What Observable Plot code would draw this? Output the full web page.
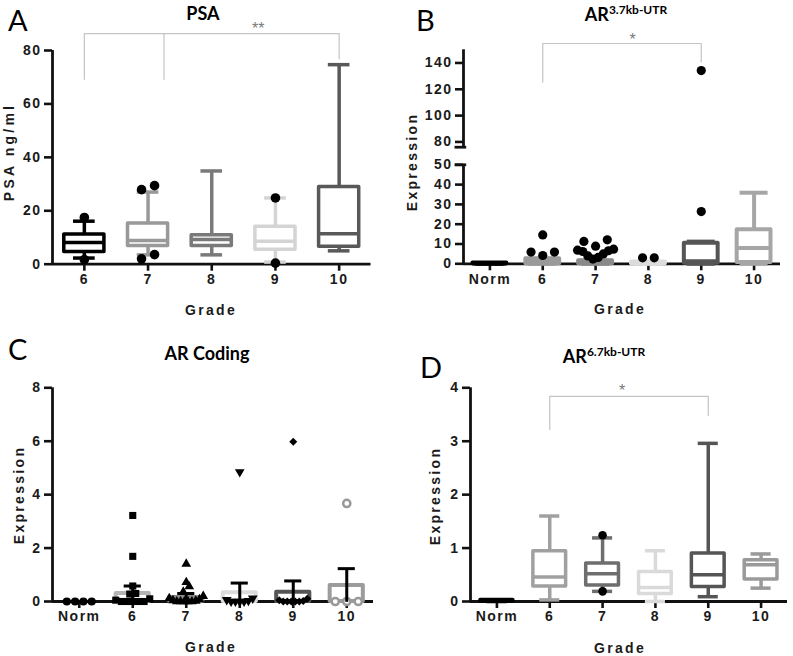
<!DOCTYPE html>
<html><head><meta charset="utf-8">
<script src="https://cdn.jsdelivr.net/npm/d3@7"></script>
<script src="https://cdn.jsdelivr.net/npm/@observablehq/plot@0.6"></script>
<style>
body{margin:0;background:#fff;}
#wrap{position:relative;width:793px;height:656px;overflow:hidden;background:#fff;}
#wrap svg{position:absolute;left:0;top:0;background:transparent !important;overflow:visible;}
.pl [aria-label^="x-axis"] text, .pl [aria-label^="y-axis"] text{
  font-family:"Liberation Sans Narrow","Liberation Sans",Arial,sans-serif;font-weight:bold;font-size:14px;letter-spacing:1.5px;fill:#1a1a1a;}
.pl [aria-label^="x-axis"] path, .pl [aria-label^="x-axis"] line,
.pl [aria-label^="y-axis"] path, .pl [aria-label^="y-axis"] line{stroke-width:2.6px;stroke:#111;}
.ov .letter{font-family:Lato,"Liberation Sans",sans-serif;font-size:29px;fill:#000;}
.ov .title{font-family:Lato,"Liberation Sans",sans-serif;font-weight:bold;font-size:18px;fill:#000;}
.ov .sup{font-size:12px;}
.ov .atitle{font-family:"Liberation Sans Narrow","Liberation Sans",Arial,sans-serif;font-weight:bold;font-size:14px;letter-spacing:2.3px;fill:#1a1a1a;}
.ov .wide{letter-spacing:3.2px;}
</style></head>
<body><div id="wrap"></div>
<script>
// ---------------- DATA ----------------
const gradesA = ["6", "7", "8", "9", "10"];
const gradesN = ["Norm", "6", "7", "8", "9", "10"];

// Panel A: PSA ng/ml (box & whiskers per grade)
const psaLow  = [2.3, 3.5, 3.5, 0.8, 5.0];
const psaQ1   = [4.6, 6.8, 6.8, 5.4, 6.5];
const psaMed  = [8.1, 8.9, 9.2, 8.6, 11.4];
const psaQ3   = [11.1, 15.2, 10.8, 14.0, 28.9];
const psaHigh = [16.1, 27.0, 34.9, 24.8, 74.7];
const psaOutGrade = ["6", "6", "7", "7", "7", "7", "9", "9"];
const psaOutValue = [17.5, 1.7, 29.4, 27.9, 2.0, 3.6, 24.8, 0.4];

// Panel B: AR 3.7kb-UTR expression
const bLow  = [0, 0, 0, 0, 0, 0];
const bQ1   = [0, 0, 0, 0, 0.3, 0.6];
const bMed  = [0.2, 1.0, 0.6, 0.3, 1.3, 8.0];
const bQ3   = [0.4, 2.5, 1.5, 0.9, 10.4, 17.2];
const bHigh = [0.4, 2.5, 1.5, 0.9, 11.2, 35.9];
const bOutGrade = ["6","6","6","6","7","7","7","7","7","7","7","7","7","7","7","8","8","9","9"];
const bOutValue = [14.6, 5.9, 4.2, 5.9, 12.1, 11.3, 8.9, 7.4, 6.9, 6.6, 6.2, 5.0, 4.0, 3.2, 2.4, 3.0, 3.0, 26.4, 134.2];

// Panel C: AR coding expression (individual values, mean bar, error bar)
const cNorm = [0, 0, 0, 0];
const c6  = [3.22, 1.69, 0.58, 0.3, 0.28, 0.1, 0.05, 0, 0, 0, 0, 0];
const c7  = [1.41, 0.72, 0.56, 0.36, 0.2, 0.12, 0.08, 0.04, 0.02, 0, 0, 0, 0, 0];
const c8  = [4.85, 0.12, 0.06, 0.03, 0, 0, 0, 0];
const c9  = [5.98, 0.1, 0.05, 0.02, 0, 0, 0, 0, 0];
const c10 = [3.67, 0, 0, 0];
const cMean = [0, 0.3, 0.15, 0.33, 0.35, 0.6];
const cErr  = [0, 0.28, 0.15, 0.36, 0.42, 0.63];

// Panel D: AR 6.7kb-UTR expression
const dLow  = [0, 0.03, 0.19, 0.0, 0.09, 0.25];
const dQ1   = [0, 0.28, 0.30, 0.14, 0.27, 0.41];
const dMed  = [0.01, 0.46, 0.52, 0.26, 0.5, 0.69];
const dQ3   = [0.03, 0.94, 0.71, 0.55, 0.9, 0.77];
const dHigh = [0.03, 1.6, 1.19, 0.95, 2.96, 0.89];
const dOutGrade = ["7", "7"];
const dOutValue = [1.24, 0.19];

// significance brackets (category positions, heights in data units)
const bracketA = {legs: [0, 1.25, 4], drops: [69.2, 69.2, 76.9], top: 86.3, label: "**", labelPos: 2.73, labelY: 88.0};
const bracketB = {legs: [1, 4], drops: [125.5, 140.8], top: 154.8, label: "*", labelPos: 2.7, labelY: 157.5};
const bracketD = {legs: [1, 4], drops: [3.22, 3.48], top: 3.84, label: "*", labelPos: 2.37, labelY: 3.95};

// ---------------- HELPERS ----------------
const W = 793, H = 656;
const wrapEl = document.getElementById("wrap");

// GraphPad-like scatter: bin points into rows, spread each row centre-out
function rowSwarm(ys, rowH, spacing, maxHalf) {
  const n = ys.length;
  const order = d3.range(n).sort((a, b) => ys[b] - ys[a]); // bottom first
  const xs = new Array(n).fill(0);
  let k = 0;
  while (k < n) {
    const start = ys[order[k]];
    const row = [];
    while (k < n && start - ys[order[k]] < rowH) row.push(order[k++]);
    const m = row.length;
    const s = m > 1 ? Math.min(spacing, (2 * maxHalf) / (m - 1)) : 0;
    const slots = d3.range(m).map(j => (j - (m - 1) / 2) * s)
      .sort((a, b) => Math.abs(a) - Math.abs(b) || a - b);
    row.forEach((idx, j) => xs[idx] = slots[j]);
  }
  return xs;
}

function swarm(ci, vals, yPx, cfg, stepPx) {
  const off = rowSwarm(vals.map(yPx), cfg.rowH, cfg.spacing, cfg.maxHalf);
  return vals.map((v, k) => ({x: ci + off[k] / stepPx, v}));
}

function bracketMarks(b) {
  const pts = [];
  const n = b.legs.length;
  pts.push({x: b.legs[0], y: b.drops[0], z: 0}, {x: b.legs[0], y: b.top, z: 0},
           {x: b.legs[n - 1], y: b.top, z: 0}, {x: b.legs[n - 1], y: b.drops[n - 1], z: 0});
  for (let i = 1; i < n - 1; i++) pts.push({x: b.legs[i], y: b.top, z: i}, {x: b.legs[i], y: b.drops[i], z: i});
  return [
    Plot.line(pts, {x: "x", y: "y", z: "z", stroke: "#c4c4c4", strokeWidth: 1.2}),
    Plot.text([b], {x: "labelPos", y: "labelY", text: "label", fill: "#7a7a7a", fontSize: 16, fontFamily: "Liberation Sans"})
  ];
}

function makePlot({cats, L, R, yDomain, yRange, yTicks, marks}) {
  const n = cats.length;
  const svg = Plot.plot({
    width: W, height: H,
    marginLeft: L, marginRight: W - R,
    marginTop: yRange[yRange.length - 1], marginBottom: H - yRange[0],
    style: {background: "transparent", overflow: "visible"},
    x: {type: "linear", domain: [-0.5, n - 0.5], range: [L, R], ticks: d3.range(n), tickFormat: i => cats[i], tickSize: 7, tickPadding: 3, label: null},
    y: {type: "linear", domain: yDomain, range: yRange, ticks: yTicks, tickSize: 8, tickPadding: 3, label: null, tickFormat: d => String(d)},
    color: {type: "identity"},
    marks
  });
  svg.classList.add("pl");
  wrapEl.appendChild(svg);
}

function boxMarks(rows, hb, hc, sw) {
  return [
    Plot.ruleX(rows, {x: "i", y1: "q3", y2: "high", stroke: "color", strokeWidth: sw}),
    Plot.ruleX(rows, {x: "i", y1: "low", y2: "q1", stroke: "color", strokeWidth: sw}),
    Plot.rect(rows, {x1: d => d.i - hb, x2: d => d.i + hb, y1: "q1", y2: "q3", fill: "white", stroke: "color", strokeWidth: sw, strokeLinejoin: "round"}),
    Plot.ruleY(rows, {y: "med", x1: d => d.i - hb, x2: d => d.i + hb, stroke: "color", strokeWidth: sw}),
    Plot.ruleY(rows, {y: "high", x1: d => d.i - hc, x2: d => d.i + hc, stroke: "color", strokeWidth: sw}),
    Plot.ruleY(rows, {y: "low", x1: d => d.i - hc, x2: d => d.i + hc, stroke: "color", strokeWidth: sw})
  ];
}

function rowsOf(cats, low, q1, med, q3, high, colors) {
  return cats.map((c, i) => ({i, c, low: low[i], q1: q1[i], med: med[i], q3: q3[i], high: high[i], color: colors[i]}));
}

function outliers(cats, grades, values, yPx, cfg, stepPx) {
  const out = [];
  cats.forEach((c, ci) => {
    const vals = values.filter((v, k) => grades[k] === c);
    if (vals.length) out.push(...swarm(ci, vals, yPx, cfg, stepPx));
  });
  return out;
}

const AXIS = "#111", AW = 2.8;

// ---------------- PANEL A ----------------
{
  const L = 52, R = 370.5, yDomain = [0, 80], yRange = [263.7, 50];
  const yPx = d3.scaleLinear().domain(yDomain).range(yRange);
  const step = (R - L) / gradesA.length;
  const colors = ["#000000", "#999999", "#7a7a7a", "#d4d4d4", "#595959"];
  const rows = rowsOf(gradesA, psaLow, psaQ1, psaMed, psaQ3, psaHigh, colors);
  const pts = outliers(gradesA, psaOutGrade, psaOutValue, yPx, {rowH: 9.5, spacing: 13, maxHalf: 20}, step);
  makePlot({cats: gradesA, L, R, yDomain, yRange, yTicks: [0, 20, 40, 60, 80], marks: [
    Plot.ruleY([yDomain[0]], {x1: () => -0.5, x2: () => gradesA.length - 0.5, stroke: AXIS, strokeWidth: AW}),
    Plot.ruleX([-0.5], {x: d => d, y1: () => yDomain[0], y2: () => yDomain[1], stroke: AXIS, strokeWidth: AW}),
    ...boxMarks(rows, 0.315, 0.17, 3.5),
    Plot.dot(pts, {x: "x", y: "v", r: 4.8, fill: "#000"}),
    ...bracketMarks(bracketA)
  ]});
}

// ---------------- PANEL B (broken axis) ----------------
{
  const L = 463, R = 780, yDomain = [0, 50, 76, 150], yRange = [263.3, 164.3, 146.7, 49.3];
  const yPx = d3.scaleLinear().domain(yDomain).range(yRange);
  const step = (R - L) / gradesN.length;
  const colors = ["#000000", "#9a9a9a", "#8a8a8a", "#dcdcdc", "#555555", "#a6a6a6"];
  const rows = rowsOf(gradesN, bLow, bQ1, bMed, bQ3, bHigh, colors);
  const pts = outliers(gradesN, bOutGrade, bOutValue, yPx, {rowH: 10, spacing: 11.7, maxHalf: 18}, step);
  const segs = [[0, 50], [76, 150]];
  makePlot({cats: gradesN, L, R, yDomain, yRange, yTicks: [0, 10, 20, 30, 40, 50, 80, 100, 120, 140], marks: [
    Plot.ruleY([0], {x1: () => -0.5, x2: () => gradesN.length - 0.5, stroke: AXIS, strokeWidth: AW}),
    Plot.ruleX(segs, {x: () => -0.5, y1: d => d[0], y2: d => d[1], stroke: AXIS, strokeWidth: AW}),
    Plot.ruleY([50, 76], {y: d => d, x1: () => -0.5 - 0.16, x2: () => -0.5 + 0.06, stroke: AXIS, strokeWidth: AW}),
    ...boxMarks(rows, 0.32, 0.265, 4),
    Plot.dot(pts, {x: "x", y: "v", r: 4.6, fill: "#000"}),
    ...bracketMarks(bracketB)
  ]});
}

// ---------------- PANEL C ----------------
{
  const L = 52, R = 373, yDomain = [0, 8], yRange = [601, 387.3];
  const yPx = d3.scaleLinear().domain(yDomain).range(yRange);
  const step = (R - L) / gradesN.length;
  const barColors = ["#000000", "#b4b4b4", "#8a8a8a", "#dadada", "#555555", "#9c9c9c"];
  const triDown = {draw(ctx, size) { const s = Math.sqrt(size / (Math.sqrt(3) / 4)); const h = s * Math.sqrt(3) / 2; ctx.moveTo(-s / 2, -h / 3); ctx.lineTo(s / 2, -h / 3); ctx.lineTo(0, 2 * h / 3); ctx.closePath(); }};
  const groups = [
    {vals: cNorm, symbol: d3.symbolCircle, r: 4.1, fill: "#000", stroke: "none"},
    {vals: c6, symbol: d3.symbolSquare, r: 4, fill: "#000", stroke: "none"},
    {vals: c7, symbol: d3.symbolTriangle, r: 3.6, fill: "#000", stroke: "none"},
    {vals: c8, symbol: triDown, r: 3.6, fill: "#000", stroke: "none"},
    {vals: c9, symbol: d3.symbolDiamond2 || d3.symbolDiamond, r: 3.6, fill: "#000", stroke: "none"},
    {vals: c10, symbol: d3.symbolCircle, r: 3.6, fill: "white", stroke: "#999999"}
  ];
  const cfgs = [
    {rowH: 7, spacing: 8.3, maxHalf: 17},
    {rowH: 6, spacing: 6, maxHalf: 17},
    {rowH: 6, spacing: 6, maxHalf: 17},
    {rowH: 6, spacing: 6, maxHalf: 13},
    {rowH: 6, spacing: 6, maxHalf: 14},
    {rowH: 7, spacing: 11.5, maxHalf: 17}
  ];
  const bars = gradesN.map((c, i) => ({i, mean: cMean[i], err: cErr[i], color: barColors[i]})).filter(d => d.mean > 0);
  const dotMarks = groups.map((g, i) => {
    const pts = swarm(i, g.vals, yPx, cfgs[i], step);
    return Plot.dot(pts, {x: "x", y: "v", r: g.r, symbol: g.symbol, fill: g.fill, stroke: g.stroke, strokeWidth: 2.5});
  });
  makePlot({cats: gradesN, L, R, yDomain, yRange, yTicks: [0, 2, 4, 6, 8], marks: [
    Plot.ruleY([0], {x1: () => -0.5, x2: () => gradesN.length - 0.5, stroke: AXIS, strokeWidth: AW}),
    Plot.ruleX([-0.5], {x: d => d, y1: () => yDomain[0], y2: () => yDomain[1], stroke: AXIS, strokeWidth: AW}),
    Plot.rect(bars, {x1: d => d.i - 0.31, x2: d => d.i + 0.31, y1: () => 0, y2: "mean", fill: "none", stroke: "color", strokeWidth: 4, strokeLinejoin: "round"}),
    ...dotMarks,
    Plot.ruleX(bars, {x: "i", y1: d => d.mean - d.err, y2: d => d.mean + d.err, stroke: "#000", strokeWidth: 3}),
    Plot.ruleY(bars, {y: d => d.mean + d.err, x1: d => d.i - 0.16, x2: d => d.i + 0.16, stroke: "#000", strokeWidth: 3})
  ]});
}

// ---------------- PANEL D ----------------
{
  const L = 470, R = 787, yDomain = [0, 4], yRange = [601, 387.3];
  const yPx = d3.scaleLinear().domain(yDomain).range(yRange);
  const step = (R - L) / gradesN.length;
  const colors = ["#000000", "#a0a0a0", "#6e6e6e", "#dadada", "#555555", "#9a9a9a"];
  const rows = rowsOf(gradesN, dLow, dQ1, dMed, dQ3, dHigh, colors);
  const pts = outliers(gradesN, dOutGrade, dOutValue, yPx, {rowH: 9, spacing: 11.7, maxHalf: 18}, step);
  makePlot({cats: gradesN, L, R, yDomain, yRange, yTicks: [0, 1, 2, 3, 4], marks: [
    Plot.ruleY([0], {x1: () => -0.5, x2: () => gradesN.length - 0.5, stroke: AXIS, strokeWidth: AW}),
    Plot.ruleX([-0.5], {x: d => d, y1: () => yDomain[0], y2: () => yDomain[1], stroke: AXIS, strokeWidth: AW}),
    ...boxMarks(rows, 0.31, 0.19, 3.5),
    Plot.dot(pts, {x: "x", y: "v", r: 4.3, fill: "#000"}),
    ...bracketMarks(bracketD)
  ]});
}

// ---------------- TITLES / LABELS ----------------
const ov = d3.select(wrapEl).append("svg").attr("class", "ov").attr("width", W).attr("height", H);
const letters = [["A", 8, 31], ["B", 416, 31], ["C", 8, 360], ["D", 420, 378]];
letters.forEach(([t, x, y]) => ov.append("text").attr("class", "letter").attr("x", x).attr("y", y).text(t));
function title(main, sup, cx, y) {
  const t = ov.append("text").attr("class", "title").attr("x", cx).attr("y", y).attr("text-anchor", "middle");
  t.append("tspan").text(main);
  if (sup) t.append("tspan").attr("class", "sup").attr("dy", -7).text(sup);
}
title("PSA", null, 203, 19.5);
title("AR", "3.7kb-UTR", 626, 21);
title("AR Coding", null, 207, 360);
title("AR", "6.7kb-UTR", 604, 363);
const xTitles = [["Grade", 211, 315], ["Grade", 620, 313.5], ["Grade", 211, 651.5], ["Grade", 620, 652.5]];
xTitles.forEach(([t, x, y]) => ov.append("text").attr("class", "atitle").attr("text-anchor", "middle").attr("x", x).attr("y", y).text(t));
const yTitles = [["PSA ng/ml", 14, 152, "wide"], ["Expression", 417, 162, ""], ["Expression", 23.5, 495, ""], ["Expression", 440, 496, ""]];
yTitles.forEach(([t, x, y, c]) => ov.append("text").attr("class", "atitle " + c).attr("text-anchor", "middle").attr("transform", `translate(${x},${y}) rotate(-90)`).text(t));
</script>
</body></html>
